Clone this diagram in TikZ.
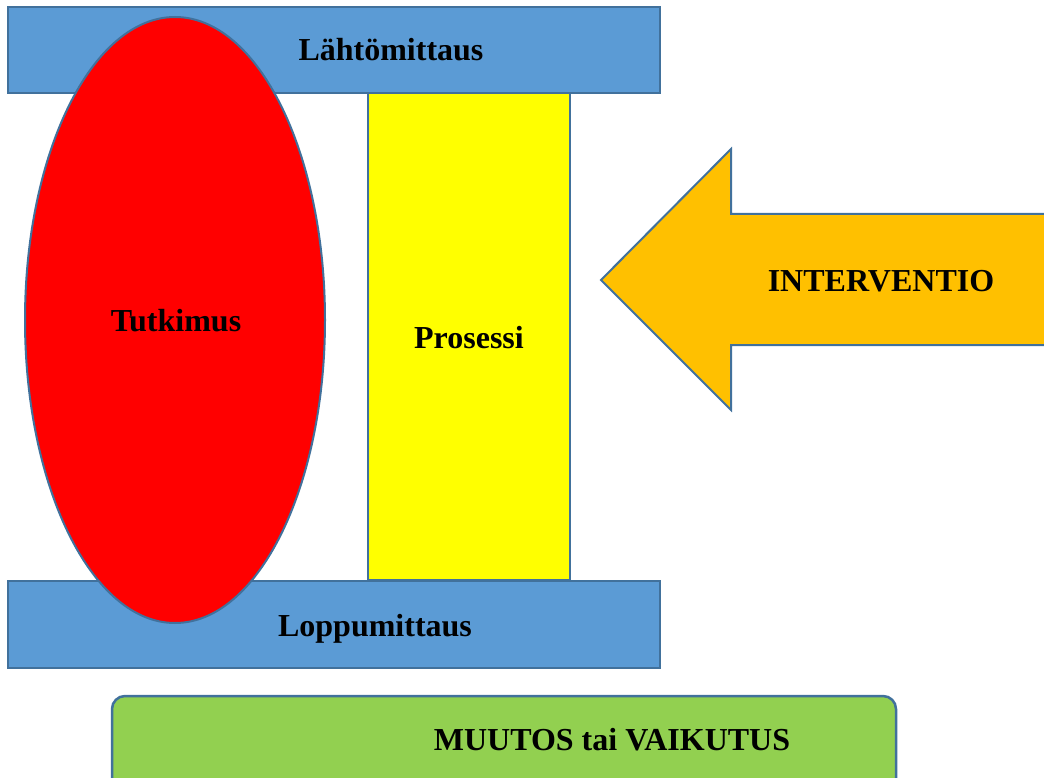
\documentclass[tikz,border=0pt]{standalone}
\usepackage{fontspec}
\setmainfont{Liberation Serif}
\definecolor{edge}{HTML}{41719C}
\definecolor{barblue}{HTML}{5B9BD5}
\definecolor{ovalred}{HTML}{FF0000}
\definecolor{procyellow}{HTML}{FFFF00}
\definecolor{arroworange}{HTML}{FFC000}
\definecolor{resgreen}{HTML}{92D050}
\begin{document}
\begin{tikzpicture}[x=1pt,y=-1pt,
  outl/.style={draw=edge,line width=2pt},
  lbl/.style={anchor=base,inner sep=0pt,font=\fontsize{32}{38}\selectfont\bfseries}]
\useasboundingbox (0,0) rectangle (1044,778);
\clip (0,0) rectangle (1044,778);
% bars
\draw[outl,fill=barblue] (8,7) rectangle (660,93);
\draw[outl,fill=barblue] (8,581) rectangle (660,668);
% process
\draw[outl,fill=procyellow] (368,93) rectangle (570,580);
% research ellipse
\draw[outl,fill=ovalred] (175,320) ellipse [x radius=150, y radius=303];
% intervention arrow
\draw[outl,fill=arroworange,line join=miter]
  (601,280) -- (731,149) -- (731,214) -- (1050,214) -- (1050,345) -- (731,345) -- (731,410) -- cycle;
% result box
\draw[draw=edge,line width=2.5pt,fill=resgreen,rounded corners=13pt] (112,696) rectangle (896,800);
% labels
\node[lbl] (lahto) at (391,61) {Lähtömittaus};
\node[lbl] (loppu) at (375,636) {Loppumittaus};
\node[lbl] (tutk) at (176,331) {Tutkimus};
\node[lbl] (pros) at (469,348) {Prosessi};
\node[lbl] (interv) at (881,291) {INTERVENTIO};
\node[lbl] (muutos) at (612,750) {MUUTOS tai VAIKUTUS};
\end{tikzpicture}
\end{document}
